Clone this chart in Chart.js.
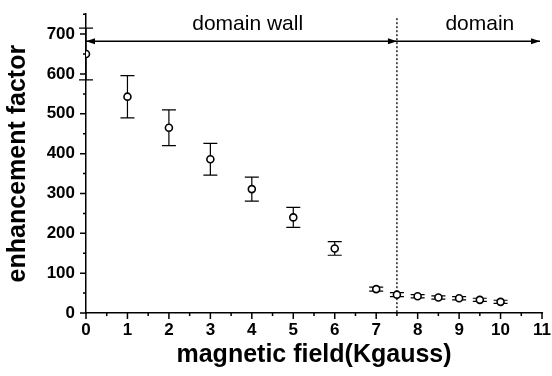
<!DOCTYPE html>
<html>
<head>
<meta charset="utf-8">
<script src="https://cdn.jsdelivr.net/npm/chart.js@4.4.1/dist/chart.umd.min.js"></script>
<style>
  html, body { margin: 0; padding: 0; background: #fff; }
  #wrap { width: 552px; height: 376px; }
</style>
</head>
<body>
<div id="wrap"><canvas id="chart"></canvas></div>
<script>
// data
const fieldKG     = [0, 1, 2, 3, 4, 5, 6, 7, 7.5, 8, 8.5, 9, 9.5, 10];
const enhancement = [650, 543, 465, 386, 311, 240, 162, 60, 46, 42, 39, 37, 33, 28];
const enhErr      = [65, 53, 45, 40, 30, 25, 17, 5, 5, 4, 4, 4, 4, 4];

const xTicks = [0, 1, 2, 3, 4, 5, 6, 7, 8, 9, 10, 11];
const yTicks = [0, 100, 200, 300, 400, 500, 600, 700];

const boundaryX = 7.5;
const arrowY = 682;
const regionLabels = ['domain wall', 'domain'];
const regionLabelX = [3.9, 9.5];
const regionLabelY = 724;

const FONT = '"Liberation Sans", Arial, sans-serif';

function arrowHead(ctx, x, y, dir) {
  ctx.beginPath();
  ctx.moveTo(x, y);
  ctx.lineTo(x - dir * 9, y - 3);
  ctx.lineTo(x - dir * 9, y + 3);
  ctx.closePath();
  ctx.fill();
}

const decorPlugin = {
  id: 'decor',
  beforeDatasetsDraw(chart) {
    const { ctx, scales: { x, y } } = chart;
    ctx.save();
    ctx.strokeStyle = '#000';
    ctx.fillStyle = '#000';

    // boundary dotted line
    ctx.lineWidth = 1.3;
    ctx.setLineDash([2, 2]);
    const bx = x.getPixelForValue(boundaryX);
    ctx.beginPath();
    ctx.moveTo(bx, y.getPixelForValue(740));
    ctx.lineTo(bx, y.getPixelForValue(0));
    ctx.stroke();
    ctx.setLineDash([]);

    // region arrow
    const ay = y.getPixelForValue(arrowY);
    const x0 = x.getPixelForValue(0);
    const x1 = x.getPixelForValue(11) - 2;
    ctx.lineWidth = 1.5;
    ctx.beginPath();
    ctx.moveTo(x0, ay);
    ctx.lineTo(x1, ay);
    ctx.stroke();
    arrowHead(ctx, x0, ay, -1);
    arrowHead(ctx, bx, ay, 1);
    arrowHead(ctx, x1, ay, 1);

    // region labels
    ctx.font = '21px ' + FONT;
    ctx.textAlign = 'center';
    ctx.textBaseline = 'middle';
    regionLabels.forEach((t, i) => {
      ctx.fillText(t, x.getPixelForValue(regionLabelX[i]), y.getPixelForValue(regionLabelY));
    });

    // error bars
    ctx.lineWidth = 1.2;
    fieldKG.forEach((fx, i) => {
      const px = x.getPixelForValue(fx);
      const top = y.getPixelForValue(enhancement[i] + enhErr[i]);
      const bot = y.getPixelForValue(enhancement[i] - enhErr[i]);
      ctx.beginPath();
      ctx.moveTo(px, top); ctx.lineTo(px, bot);
      ctx.moveTo(px - 7, top); ctx.lineTo(px + 7, top);
      ctx.moveTo(px - 7, bot); ctx.lineTo(px + 7, bot);
      ctx.stroke();
    });
    ctx.restore();
  },
  afterDraw(chart) {
    const { ctx, scales: { x, y } } = chart;
    ctx.save();
    ctx.strokeStyle = '#000';
    ctx.lineWidth = 1.5;
    const base = y.getPixelForValue(0);
    const left = x.getPixelForValue(0);
    ctx.beginPath();
    for (let v = 0; v <= 11; v += 0.5) {
      const px = x.getPixelForValue(v);
      const len = Number.isInteger(v) ? 6 : 3;
      ctx.moveTo(px, base); ctx.lineTo(px, base + len);
    }
    for (let v = 0; v <= 750; v += 50) {
      const py = y.getPixelForValue(v);
      const len = v % 100 === 0 ? 6 : 3;
      ctx.moveTo(left, py); ctx.lineTo(left - len, py);
    }
    ctx.stroke();
    ctx.restore();
  }
};

new Chart(document.getElementById('chart'), {
  type: 'scatter',
  data: {
    datasets: [{
      data: fieldKG.map((v, i) => ({ x: v, y: enhancement[i] })),
      pointRadius: 3.5,
      pointBorderWidth: 1.6,
      pointBackgroundColor: '#fff',
      pointBorderColor: '#000',
      showLine: false
    }]
  },
  options: {
    responsive: true,
    maintainAspectRatio: false,
    animation: false,
    devicePixelRatio: 1,
    layout: { padding: { top: 8, right: 3, left: 0, bottom: 0 } },
    plugins: { legend: { display: false }, tooltip: { enabled: false } },
    scales: {
      x: {
        type: 'linear', min: 0, max: 11,
        afterBuildTicks: s => { s.ticks = xTicks.map(v => ({ value: v })); },
        afterFit: s => { s.height = 63; },
        grid: { display: false, drawTicks: true, tickLength: 6 },
        border: { display: true, color: '#000', width: 1.5 },
        ticks: { color: '#000', padding: 1, maxRotation: 0, autoSkip: false,
                 font: { family: FONT, size: 17, weight: 'bold' } },
        title: { display: true, text: 'magnetic field(Kgauss)', color: '#000',
                 padding: { top: 0, bottom: 6 },
                 font: { family: FONT, size: 25, weight: 'bold' } }
      },
      y: {
        type: 'linear', min: 0, max: 750,
        afterBuildTicks: s => { s.ticks = yTicks.map(v => ({ value: v })); },
        afterFit: s => { s.width = 86; },
        grid: { display: false, drawTicks: true, tickLength: 7 },
        border: { display: true, color: '#000', width: 1.5 },
        ticks: { color: '#000', padding: 4,
                 font: { family: FONT, size: 17, weight: 'bold' } },
        title: { display: true, text: 'enhancement factor', color: '#000',
                 padding: { top: 3, bottom: 0 },
                 font: { family: FONT, size: 25, weight: 'bold' } }
      }
    }
  },
  plugins: [decorPlugin]
});
</script>
</body>
</html>
